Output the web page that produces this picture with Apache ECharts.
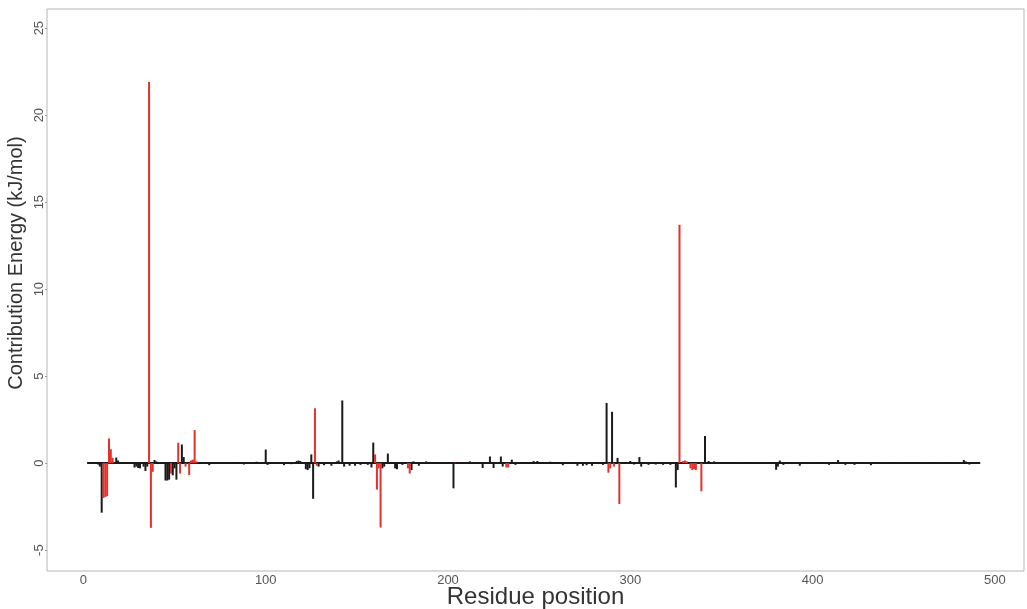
<!DOCTYPE html>
<html>
<head>
<meta charset="utf-8">
<script src="https://cdn.jsdelivr.net/npm/echarts@6/dist/echarts.min.js"></script>
<style>html,body{margin:0;padding:0;background:#fff}#c{width:1027px;height:609px}</style>
</head>
<body>
<div id="c"></div>
<script>
// Residue range covered by the profile (baseline)
const residueRange = [2, 492];

// Black residues and their contribution energies (kJ/mol)
const blackResidues = [3,5,8,9,10,18,19,20,22,25,28,29,30,31,33,34,35,39,40,42,45,46,47,49,50,51,54,55,63,66,69,74,80,88,95,100,101,105,110,114,117,118,119,121,122,123,124,125,126,129,132,136,139,140,142,143,146,149,152,156,158,159,164,165,167,171,172,175,180,181,184,188,190,197,203,208,212,215,219,223,225,229,230,235,237,241,247,249,253,256,259,263,271,274,276,279,285,287,290,293,296,300,302,305,306,310,314,318,322,325,326,341,343,346,350,355,360,365,370,375,380,381,382,384,393,400,409,412,414,418,423,432,440,450,460,470,478,483,484,486,490];
const blackValues = [-0.05,0.03,-0.08,-0.2,-2.85,0.32,0.15,0.05,-0.05,-0.05,-0.25,-0.2,-0.28,-0.3,-0.2,-0.45,-0.2,0.18,0.1,-0.05,-1.0,-1.0,-0.95,-0.7,-0.3,-0.95,1.07,0.35,0.05,-0.05,-0.12,-0.05,-0.05,-0.08,0.08,0.78,-0.1,-0.05,-0.12,-0.06,0.12,0.15,0.12,-0.05,-0.35,-0.4,-0.3,0.5,-2.05,-0.2,-0.12,-0.15,0.1,0.15,3.6,-0.2,-0.15,-0.15,-0.1,-0.1,-0.25,1.18,-0.3,-0.2,0.55,-0.3,-0.35,-0.1,-0.4,0.1,-0.15,0.1,0.05,-0.05,-1.45,0.03,0.1,-0.05,-0.28,0.38,-0.28,0.38,-0.2,0.2,-0.1,0.05,0.12,0.12,0.05,0.08,0.05,-0.12,-0.15,-0.15,-0.12,-0.15,-0.1,3.46,2.95,0.3,0.05,0.12,-0.08,0.35,-0.2,-0.1,-0.08,-0.1,-0.1,-1.4,-0.4,1.56,0.12,0.1,0.05,0.05,-0.05,0.05,-0.05,-0.05,-0.38,-0.2,0.15,-0.1,-0.15,-0.05,-0.1,0.05,0.18,-0.1,-0.1,-0.12,-0.05,-0.03,-0.05,-0.05,-0.05,0.18,0.1,-0.08,-0.05];

// Red (highlighted) residues and their contribution energies (kJ/mol)
const redResidues = [11,12,13,14,15,16,36,37,38,48,52,53,56,58,59,60,61,62,127,128,160,161,162,163,178,179,204,232,233,288,289,291,294,327,329,330,331,333,334,335,336,339];
const redValues = [-2.0,-1.95,-1.9,1.42,0.8,0.3,21.9,-3.72,-0.5,-0.6,1.17,-0.6,-0.2,-0.68,0.15,0.2,1.9,0.1,3.15,-0.15,0.5,-1.52,-0.3,-3.7,-0.3,-0.6,0.03,-0.25,-0.25,-0.55,-0.3,-0.2,-2.35,13.7,0.12,0.15,0.1,-0.3,-0.4,-0.35,-0.4,-1.62];

// Tick labels
const xTicks = [0, 100, 200, 300, 400, 500];
const yTicks = [-5, 0, 5, 10, 15, 20, 25];

const font = "'Liberation Sans', Arial, sans-serif";
const chart = echarts.init(document.getElementById('c'), null, {renderer: 'canvas'});
chart.setOption({
  animation: false,
  backgroundColor: '#fff',
  grid: {left: 47, right: 3, top: 9, bottom: 38, containLabel: false, outerBoundsMode: 'none',
         show: true, borderColor: '#b5b5b5', borderWidth: 1, backgroundColor: 'transparent'},
  xAxis: {
    type: 'value', min: -20, max: 516,
    axisLine: {show: false, onZero: false}, splitLine: {show: false},
    axisTick: {show: false},
    axisLabel: {customValues: xTicks, color: '#555', fontSize: 13, fontFamily: font, margin: 3},
    name: 'Residue position', nameLocation: 'middle', nameGap: 14, nameMoveOverlap: false,
    nameTextStyle: {color: '#333', fontSize: 24, fontFamily: font}
  },
  yAxis: {
    type: 'value', min: -6.2, max: 26.1,
    axisLine: {show: false, onZero: false}, splitLine: {show: false},
    axisTick: {show: true, customValues: yTicks, length: 2, lineStyle: {color: '#999'}},
    axisLabel: {customValues: yTicks, rotate: 90, color: '#555', fontSize: 13, fontFamily: font, margin: 1},
    name: 'Contribution Energy (kJ/mol)', nameLocation: 'middle', nameGap: 21, nameMoveOverlap: false,
    nameTextStyle: {color: '#333', fontSize: 20, fontFamily: font, padding: [0, 0, 0, 54]}
  },
  series: [
    {
      type: 'line', data: residueRange.map(r => [r, 0]), symbol: 'none',
      lineStyle: {color: '#1a1a1a', width: 2}, z: 1, silent: true
    },
    {
      type: 'bar', data: blackResidues.map((r, i) => [r, blackValues[i]]),
      barWidth: 2, barGap: '-100%', itemStyle: {color: '#1a1a1a'}, z: 2
    },
    {
      type: 'bar', data: redResidues.map((r, i) => [r, redValues[i]]),
      barWidth: 2, barGap: '-100%', itemStyle: {color: '#e5312a'}, z: 3
    }
  ]
});
</script>
</body>
</html>
